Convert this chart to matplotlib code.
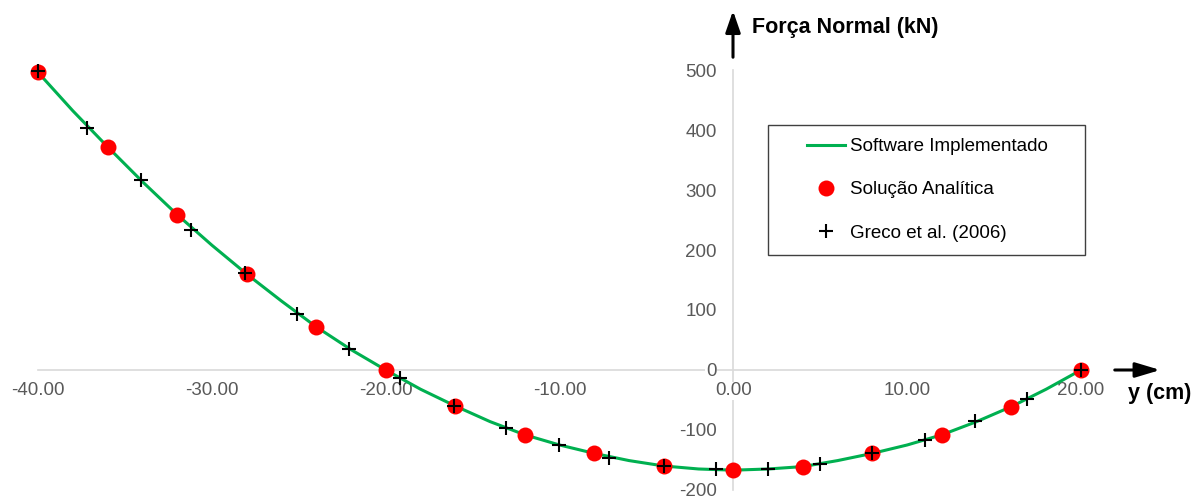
import matplotlib.pyplot as plt
from matplotlib.patches import Rectangle

plt.rcParams['font.family'] = ['Liberation Sans', 'DejaVu Sans']
plt.rcParams['axes.unicode_minus'] = False

# Software Implementado (linha)
y_soft = [-40, -38, -36, -34, -32, -30, -28, -26, -24, -22, -20, -18, -16, -14, -12, -10,
          -8, -6, -4, -2, 0, 2, 4, 6, 8, 10, 12, 14, 16, 18, 20]
n_soft = [496, 432, 372, 314, 259, 208, 160, 115, 72, 34, 0, -32, -60, -86, -108, -125,
          -139, -151, -160, -165, -167, -165, -161, -151, -139, -125, -108, -86, -61, -32, 0]

# Solução Analítica
y_anal = [-40, -36, -32, -28, -24, -20, -16, -12, -8, -4, 0, 4, 8, 12, 16, 20]
n_anal = [496, 372, 259, 160, 72, 0, -60, -108, -139, -160, -167, -161, -139, -108, -61, 0]

# Greco et al. (2006)
y_greco = [-40, -37.2, -34.1, -31.2, -28.1, -25.1, -22.1, -19.2, -16.05, -13.1, -10.05,
           -7.15, -4, -1, 2, 5, 8, 11, 13.9, 16.9, 20]
n_greco = [499, 403, 317, 234, 161, 94, 35, -14, -60, -96, -125,
           -146, -160, -165, -165, -157, -139, -117, -85, -49, 0]

xticks = [-40, -30, -20, -10, 0, 10, 20]
yticks = [-200, -100, 0, 100, 200, 300, 400, 500]

W, H = 1203, 500
fig = plt.figure(figsize=(W / 100, H / 100), dpi=100)
ax = fig.add_axes([0, 0, 1, 1])
ax.set_xlim(-42.19, 27.02)
ax.set_ylim(-216.7, 616.7)

ax.plot(y_soft, n_soft, color='#00b050', lw=2.2, label='Software Implementado', zorder=3)
ax.plot(y_anal, n_anal, 'o', color='#ff0000', ms=11.5, mec='none',
        label='Solução Analítica', zorder=4)
ax.plot(y_greco, n_greco, '+', color='black', ms=10, mew=1.5,
        label='Greco et al. (2006)', zorder=5)

# eixos no zero
for s in ['top', 'right']:
    ax.spines[s].set_visible(False)
ax.spines['left'].set_position(('data', 0))
ax.spines['bottom'].set_position(('data', 0))
ax.spines['left'].set_bounds(-200, 500)
ax.spines['bottom'].set_bounds(-40, 20)
for s in ['left', 'bottom']:
    ax.spines[s].set_color('#d9d9d9')
    ax.spines[s].set_linewidth(1.2)
    ax.spines[s].set_zorder(1)

ax.set_xticks(xticks)
ax.set_xticklabels(['%.2f' % v for v in xticks])
ax.set_yticks(yticks)
ax.set_yticklabels([str(v) for v in yticks])
ax.tick_params(axis='x', length=0, pad=9, labelsize=13.5, labelcolor='#595959')
ax.tick_params(axis='y', length=0, pad=12, labelsize=13.5, labelcolor='#595959')
for lab in ax.get_xticklabels() + ax.get_yticklabels():
    lab.set_bbox(dict(facecolor='white', edgecolor='none', pad=0.5))

# setas e títulos dos eixos
def fx(px):
    return px / W

def fy(py):
    return 1 - py / H

ax.annotate('', xy=(fx(733), fy(8)), xytext=(fx(733), fy(60)), xycoords='figure fraction',
            arrowprops=dict(arrowstyle='-|>,head_length=1.3,head_width=0.45',
                            mutation_scale=10, color='black', lw=2.2))
ax.annotate('', xy=(fx(1163), fy(370)), xytext=(fx(1112), fy(370)), xycoords='figure fraction',
            arrowprops=dict(arrowstyle='-|>,head_length=1.5,head_width=0.45',
                            mutation_scale=10, color='black', lw=2.2))
fig.text(fx(752), fy(27), 'Força Normal (kN)', fontsize=15.5, fontweight='bold',
         ha='left', va='center')
fig.text(fx(1128), fy(394), 'y (cm)', fontsize=15.5, fontweight='bold',
         ha='left', va='center')

# legenda
fig.patches.append(Rectangle((fx(768), fy(255)), fx(1085) - fx(768), fy(125) - fy(255),
                             transform=fig.transFigure, fill=False,
                             edgecolor='#404040', lw=1.0))
ax.legend(loc='upper left', bbox_to_anchor=(fx(807), fy(138)), bbox_transform=fig.transFigure,
          frameon=False, fontsize=13.5, borderpad=0, borderaxespad=0,
          handlelength=2.0, handletextpad=0.3, labelspacing=1.4)

fig.savefig('out.png', dpi=100)
